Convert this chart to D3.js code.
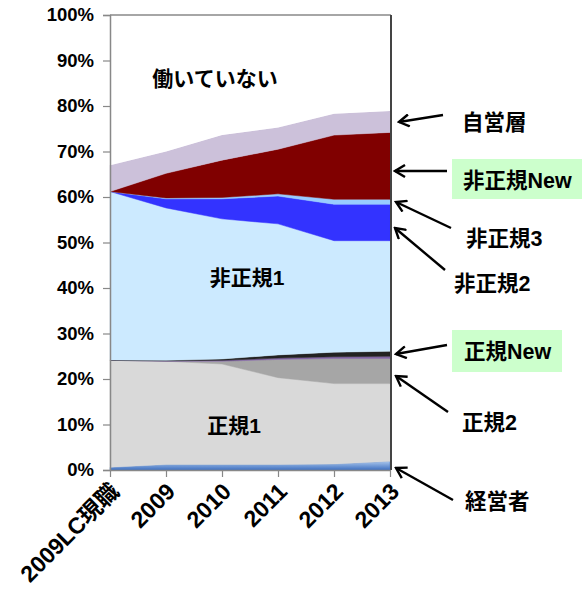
<!DOCTYPE html>
<html>
<head>
<meta charset="utf-8">
<script src="https://cdn.jsdelivr.net/npm/d3@7"></script>
<style>
  body { margin: 0; background: #fff; }
  text { font-family: "Liberation Sans", "Noto Sans CJK JP", sans-serif; font-weight: bold; fill: #000; }
</style>
</head>
<body>
<svg id="chart" width="582" height="599"></svg>
<script>
// categories and stacked shares (%), bottom layer first
let categories = ["2009LC現職", "2009", "2010", "2011", "2012", "2013"];
let keiei = [0.6, 1.2, 1.2, 1.2, 1.3, 1.9];
let seiki1 = [23.5, 22.7, 22.1, 19.1, 17.7, 17.1];
let seiki2 = [0, 0, 0.6, 4.0, 5.5, 5.5];
let seiki3 = [0, 0.1, 0.2, 0.3, 0.4, 0.5];
let seikiNew = [0.1, 0.1, 0.3, 0.7, 1.0, 1.1];
let hiseiki1 = [37.0, 33.5, 30.8, 28.8, 24.5, 24.3];
let hiseiki2 = [0, 2.0, 4.4, 6.1, 8.0, 8.0];
let hiseiki3 = [0, 0.2, 0.3, 0.5, 1.1, 1.1];
let hiseikiNew = [0, 5.4, 8.2, 9.8, 14.1, 14.7];
let jiei = [5.8, 4.8, 5.5, 4.8, 4.7, 4.7];
let notWorking = [33.0, 30.0, 26.4, 24.7, 21.7, 21.1];
let yTicks = [0, 10, 20, 30, 40, 50, 60, 70, 80, 90, 100];

let series = {
  "経営者": keiei,
  "正規1": seiki1,
  "正規2": seiki2,
  "正規3": seiki3,
  "正規New": seikiNew,
  "非正規1": hiseiki1,
  "非正規2": hiseiki2,
  "非正規3": hiseiki3,
  "非正規New": hiseikiNew,
  "自営層": jiei,
  "働いていない": notWorking,
};
let keys = Object.keys(series);

let colors = {
  "経営者": "url(#blueGrad)",
  "正規1": "#d9d9d9",
  "正規2": "#a6a6a6",
  "正規3": "#8064a2",
  "正規New": "#222222",
  "非正規1": "#cceaff",
  "非正規2": "#3333ff",
  "非正規3": "#99ccff",
  "非正規New": "#800000",
  "自営層": "#ccc1da",
  "働いていない": "#ffffff",
};

let table = categories.map((c, i) => {
  let row = { cat: c };
  keys.forEach((k) => (row[k] = series[k][i]));
  return row;
});

let svg = d3.select("#chart");

let x = d3.scalePoint().domain(categories).range([110, 390]).padding(0);
let y = d3.scaleLinear().domain([0, 100]).range([470, 15]);

let defs = svg.append("defs");
let grad = defs.append("linearGradient").attr("id", "blueGrad")
  .attr("x1", 0).attr("y1", 0).attr("x2", 0).attr("y2", 1);
grad.append("stop").attr("offset", "0%").attr("stop-color", "#a9c6ec");
grad.append("stop").attr("offset", "100%").attr("stop-color", "#3f70c0");

// open arrowhead, tip at the line end
defs.append("marker").attr("id", "arrow")
  .attr("viewBox", "0 0 14 14").attr("refX", 12).attr("refY", 7)
  .attr("markerWidth", 14).attr("markerHeight", 14)
  .attr("markerUnits", "userSpaceOnUse")
  .attr("orient", "auto")
  .append("path").attr("d", "M2,1 L12,7 L2,13")
  .attr("fill", "none").attr("stroke", "#000").attr("stroke-width", 2.4)
  .attr("stroke-linejoin", "miter");

let stacked = d3.stack().keys(keys)(table);

let area = d3.area()
  .x((d) => x(d.data.cat))
  .y0((d) => y(d[0]))
  .y1((d) => y(d[1]));

svg.append("g").selectAll("path")
  .data(stacked)
  .join("path")
  .attr("d", area)
  .attr("fill", (d) => colors[d.key])
  .attr("stroke", (d) => (d.key == "働いていない" ? "none" : d.key == "経営者" ? "#4a7bc4" : colors[d.key]))
  .attr("stroke-width", 0.5);

// frame: top gray, right dark
svg.append("line").attr("x1", x.range()[0]).attr("x2", 391).attr("y1", y(100)).attr("y2", y(100))
  .attr("stroke", "#888").attr("stroke-width", 1.5);
svg.append("line").attr("x1", 391).attr("x2", 391).attr("y1", y(100)).attr("y2", y(0))
  .attr("stroke", "#444").attr("stroke-width", 2);

// y axis
let yAxis = svg.append("g").attr("transform", "translate(110,0)")
  .call(d3.axisLeft(y).tickValues(yTicks).tickFormat((d) => d + "%").tickSize(7).tickPadding(9));
yAxis.select(".domain").attr("stroke", "#888").attr("stroke-width", 1.5);
yAxis.selectAll(".tick line").attr("stroke", "#888").attr("stroke-width", 1.2);
yAxis.selectAll("text").style("font-size", "18.5px").attr("fill", "#000");

// x axis
let xAxis = svg.append("g").attr("transform", "translate(0,470)")
  .call(d3.axisBottom(x).tickSize(7).tickSizeOuter(0));
xAxis.select(".domain").attr("stroke", "#888").attr("stroke-width", 1.5);
xAxis.selectAll(".tick line").attr("stroke", "#888").attr("stroke-width", 1.2);
xAxis.selectAll("text")
  .style("font-size", "23px")
  .attr("text-anchor", "end")
  .attr("dy", null).attr("y", 0)
  .attr("transform", "translate(10,23) rotate(-45)")
  .attr("fill", "#000");

// labels inside the chart
let inner = [
  { t: "働いていない", x: 215, y: 78 },
  { t: "非正規1", x: 247, y: 277 },
  { t: "正規1", x: 234, y: 425 },
];
svg.append("g").selectAll("text").data(inner).join("text")
  .attr("x", (d) => d.x).attr("y", (d) => d.y)
  .attr("text-anchor", "middle").attr("dominant-baseline", "central")
  .style("font-size", "21px").text((d) => d.t);

// right side labels with arrows
let notes = [
  { t: "自営層", tx: 462, ty: 123, x1: 443, y1: 115, x2: 399, y2: 122 },
  { t: "非正規New", tx: 463, ty: 181, x1: 447, y1: 171, x2: 395, y2: 171, box: [452, 159, 132, 40] },
  { t: "非正規3", tx: 466, ty: 239, x1: 451, y1: 228, x2: 396, y2: 202 },
  { t: "非正規2", tx: 454, ty: 284, x1: 445, y1: 270, x2: 395, y2: 228 },
  { t: "正規New", tx: 464, ty: 352, x1: 447, y1: 345, x2: 396, y2: 354, box: [452, 330, 110, 42] },
  { t: "正規2", tx: 462, ty: 423, x1: 448, y1: 412, x2: 396, y2: 376 },
  { t: "経営者", tx: 465, ty: 502, x1: 453, y1: 500, x2: 396, y2: 468 },
];

let ng = svg.append("g");
ng.selectAll("rect").data(notes.filter((d) => d.box)).join("rect")
  .attr("x", (d) => d.box[0]).attr("y", (d) => d.box[1])
  .attr("width", (d) => d.box[2]).attr("height", (d) => d.box[3])
  .attr("fill", "#ccffcc");
ng.selectAll("line").data(notes).join("line")
  .attr("x1", (d) => d.x1).attr("y1", (d) => d.y1)
  .attr("x2", (d) => d.x2).attr("y2", (d) => d.y2)
  .attr("stroke", "#000").attr("stroke-width", 2.4)
  .attr("marker-end", "url(#arrow)");
ng.selectAll("text").data(notes).join("text")
  .attr("x", (d) => d.tx).attr("y", (d) => d.ty)
  .attr("dominant-baseline", "central")
  .style("font-size", "21.5px").text((d) => d.t);
</script>
</body>
</html>
